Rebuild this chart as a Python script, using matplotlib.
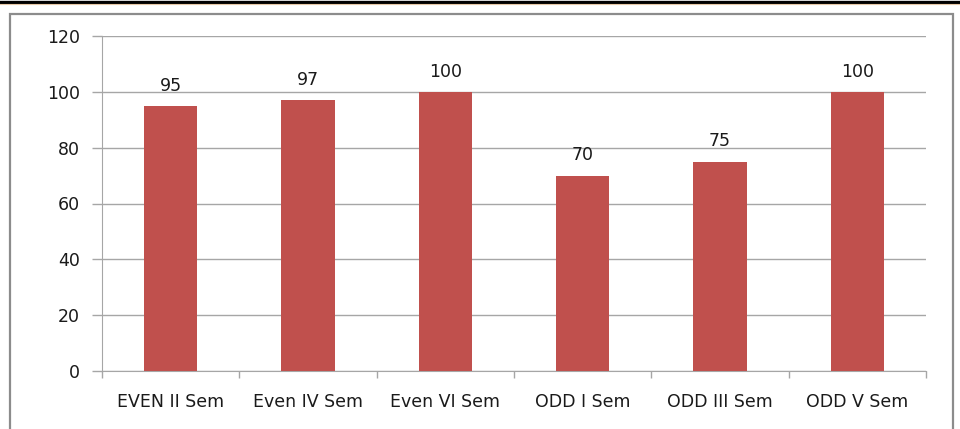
import matplotlib.pyplot as plt
from matplotlib.patches import Rectangle
from matplotlib.lines import Line2D

# data
semesters = ['EVEN II Sem', 'Even IV Sem', 'Even VI Sem', 'ODD I Sem', 'ODD III Sem', 'ODD V Sem']
scores = [95, 97, 100, 70, 75, 100]
yticks = [0, 20, 40, 60, 80, 100, 120]

barColor = '#C0504D'
gridColor = '#A6A6A6'
textColor = '#1a1a1a'

fig = plt.figure(figsize=(9.6, 4.29), dpi=100)

# heavy rule along the top of the page, with a thin tan line under it
fig.add_artist(Line2D([0, 1], [1 - 1.5/429, 1 - 1.5/429], color='black', lw=2.4,
                      transform=fig.transFigure))
fig.add_artist(Line2D([0, 1], [1 - 4/429, 1 - 4/429], color='#E8C9A8', lw=0.8,
                      transform=fig.transFigure))

# chart frame
fig.add_artist(Rectangle((10/960, -0.05), (953 - 10)/960, 1.05 - 14/429,
                         transform=fig.transFigure, fill=False,
                         edgecolor='#8C8C8C', lw=1.6))

ax = fig.add_axes([102/960, 1 - 371/429, (926 - 102)/960, (371 - 36)/429])

x = list(range(len(semesters)))
bars = ax.bar(x, scores, width=0.39, color=barColor, zorder=3)

for xi, v in zip(x, scores):
    ax.text(xi, v + 4.0, str(v), ha='center', va='bottom', fontsize=12.5,
            color=textColor)

ax.set_xlim(-0.5, len(semesters) - 0.5)
ax.set_ylim(0, 120)
ax.set_yticks(yticks)
ax.set_yticklabels([str(t) for t in yticks], fontsize=12.5, color=textColor)
ax.yaxis.grid(True, color=gridColor, lw=1.0, zorder=0)
ax.tick_params(axis='y', length=7, width=1, color=gridColor, pad=9)

# x ticks sit on the category boundaries, labels in the middle
ax.set_xticks([i - 0.5 for i in range(len(semesters) + 1)])
ax.set_xticklabels([])
ax.set_xticks(x, minor=True)
ax.set_xticklabels(semesters, minor=True, fontsize=12.5, color=textColor)
ax.tick_params(axis='x', which='major', length=5, width=1, color=gridColor)
ax.tick_params(axis='x', which='minor', length=0, pad=16)

for side in ['top', 'right']:
    ax.spines[side].set_visible(False)
ax.spines['left'].set_color(gridColor)
ax.spines['bottom'].set_color(gridColor)

fig.savefig('out.png', dpi=100)
